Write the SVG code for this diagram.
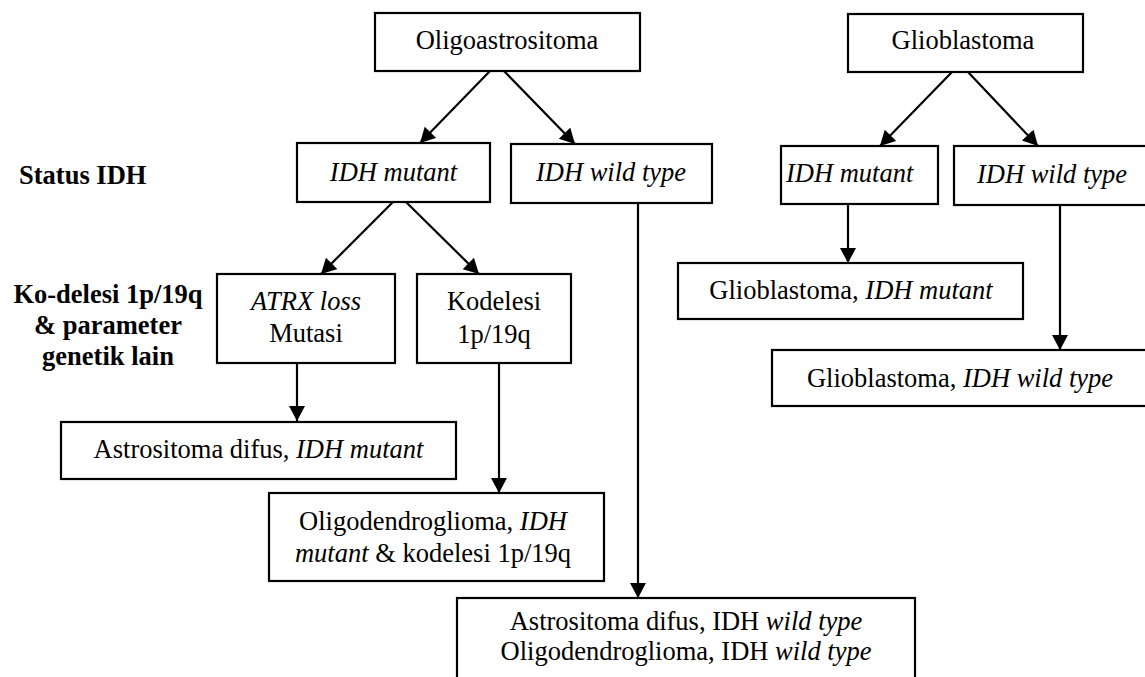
<svg xmlns="http://www.w3.org/2000/svg" width="1145" height="677" viewBox="0 0 1145 677">
<style>
.box{fill:#fff;stroke:#000;stroke-width:2.2}
text{font-family:'Liberation Serif',Tinos,'Times New Roman',Times,'DejaVu Serif',serif;font-size:26.5px;fill:#000;text-anchor:middle}
.l{text-anchor:start}
.b{font-weight:bold}
.i{font-style:italic}
.c{fill:none;stroke:#000;stroke-width:2.2}
</style>
<defs>
<marker id="ah" markerUnits="userSpaceOnUse" markerWidth="16" markerHeight="17" refX="15" refY="8" orient="auto">
<path d="M0,0 L15,8 L0,16 z" fill="#000"/>
</marker>
</defs>
<rect width="1145" height="677" fill="#fff"/>
<g id="labels">
<text class="b l" x="19" y="184">Status IDH</text>
<text class="b" x="108" y="303">Ko-delesi 1p/19q</text>
<text class="b" x="108" y="334">&amp; parameter</text>
<text class="b" x="108" y="365">genetik lain</text>
</g>
<g id="connectors">
<line class="c" x1="490" y1="71" x2="420" y2="143" marker-end="url(#ah)"/>
<line class="c" x1="504" y1="71" x2="575" y2="144" marker-end="url(#ah)"/>
<line class="c" x1="952" y1="72" x2="880" y2="146" marker-end="url(#ah)"/>
<line class="c" x1="968" y1="72" x2="1038" y2="146" marker-end="url(#ah)"/>
<line class="c" x1="393" y1="202" x2="321" y2="274" marker-end="url(#ah)"/>
<line class="c" x1="406" y1="202" x2="479" y2="274" marker-end="url(#ah)"/>
<line class="c" x1="297" y1="363" x2="297" y2="421" marker-end="url(#ah)"/>
<line class="c" x1="499" y1="363" x2="499" y2="493" marker-end="url(#ah)"/>
<line class="c" x1="638" y1="203" x2="638" y2="598" marker-end="url(#ah)"/>
<line class="c" x1="848" y1="204" x2="848" y2="263" marker-end="url(#ah)"/>
<line class="c" x1="1060" y1="205" x2="1060" y2="350" marker-end="url(#ah)"/>
</g>
<g id="oligoastrositoma">
<rect class="box" x="375" y="13" width="265" height="58"/>
<text x="507" y="49">Oligoastrositoma</text>
</g>
<g id="glioblastoma">
<rect class="box" x="848" y="14" width="235" height="58"/>
<text x="963" y="49">Glioblastoma</text>
</g>
<g id="oa-idh-mutant">
<rect class="box" x="297" y="143" width="193" height="59"/>
<text class="i" x="393.5" y="181">IDH mutant</text>
</g>
<g id="oa-idh-wild">
<rect class="box" x="511" y="144" width="201" height="59"/>
<text class="i" x="611" y="181">IDH wild type</text>
</g>
<g id="gb-idh-mutant">
<rect class="box" x="781" y="146" width="157" height="58"/>
<text class="i l" x="786" y="182">IDH mutant</text>
</g>
<g id="gb-idh-wild">
<rect class="box" x="954" y="146" width="196" height="59"/>
<text class="i" x="1052" y="183">IDH wild type</text>
</g>
<g id="atrx">
<rect class="box" x="217" y="274" width="178" height="89"/>
<text class="i" x="306" y="310">ATRX loss</text>
<text x="306" y="342">Mutasi</text>
</g>
<g id="kodelesi">
<rect class="box" x="417" y="274" width="154" height="89"/>
<text x="494" y="310">Kodelesi</text>
<text x="494" y="343">1p/19q</text>
</g>
<g id="gb-result-mutant">
<rect class="box" x="678" y="263" width="345" height="56"/>
<text x="851" y="299">Glioblastoma, <tspan class="i">IDH mutant</tspan></text>
</g>
<g id="gb-result-wild">
<rect class="box" x="772" y="350" width="378" height="56"/>
<text x="960" y="387">Glioblastoma, <tspan class="i">IDH wild type</tspan></text>
</g>
<g id="astro-mutant">
<rect class="box" x="61" y="422" width="395" height="57"/>
<text x="258.5" y="458">Astrositoma difus, <tspan class="i">IDH mutant</tspan></text>
</g>
<g id="oligo-mutant">
<rect class="box" x="269" y="493" width="335" height="88"/>
<text x="433" y="530">Oligodendroglioma, <tspan class="i">IDH</tspan></text>
<text x="433" y="562"><tspan class="i">mutant</tspan> &amp; kodelesi 1p/19q</text>
</g>
<g id="wild-results">
<rect class="box" x="457" y="598" width="458" height="90"/>
<text x="686" y="630">Astrositoma difus, IDH <tspan class="i">wild type</tspan></text>
<text x="686" y="660">Oligodendroglioma, IDH <tspan class="i">wild type</tspan></text>
</g>
</svg>
